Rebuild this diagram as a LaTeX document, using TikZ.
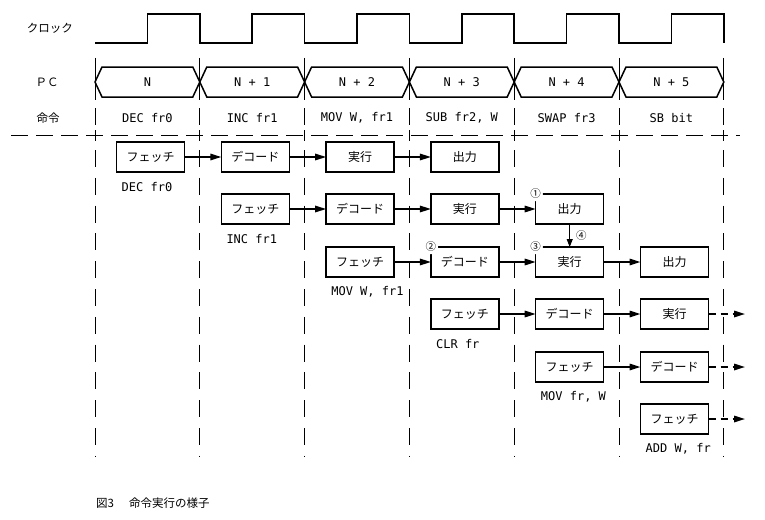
\documentclass[tikz,border=0pt]{standalone}
\usepackage{fontspec}
\newfontfamily\jp{Noto Sans CJK JP}
\newfontfamily\mono{DejaVu Sans Mono}
\usetikzlibrary{positioning,arrows.meta}
\begin{document}
\begin{tikzpicture}
[x=1pt,y=-1pt,
  stagebox/.style={shape=rectangle,draw,line width=1.5pt,minimum width=68pt,
    minimum height=30pt,inner sep=0pt,outer sep=0pt,font=\jp\fontsize{12}{12}\selectfont},
  arrowdecorate/.style={-{Triangle[length=11pt,width=6.5pt]},line width=1.6pt},
  dasharrow/.style={arrowdecorate,dash pattern=on 7pt off 5pt},
  thinarrow/.style={-{Triangle[length=8pt,width=6pt]},line width=1pt},
  gridline/.style={line width=0.8pt,dash pattern=on 17pt off 8pt},
  labeltext/.style={font=\mono\fontsize{12}{12}\selectfont,inner sep=0pt},
  jptext/.style={font=\jp\fontsize{11.5}{12}\selectfont,inner sep=0pt},
  circnum/.style={shape=circle,fill=white,inner sep=0pt,font=\jp\fontsize{10.5}{10.5}\selectfont},
  node distance=36.8pt]
\useasboundingbox (0,0) rectangle (765,519);
%% row titles
\node[jptext] (clk) at (50,28) {クロック};
\node[jptext] (pc) at (47,82) {ＰＣ};
\node[jptext] (op) at (48,118) {命令};
%% clock
\draw[line width=1.5pt] (95,43) \foreach \k in {0,...,5} {
  -- ++(52.4,0) -- ++(0,-29) -- ++(52.4,0) -- ++(0,29)};
%% grid
\foreach \k in {0,...,6} {
  \draw[line width=0.8pt] ({95+104.8*\k},58) -- ({95+104.8*\k},100);
  \draw[line width=0.8pt] ({95+104.8*\k},108) -- ({95+104.8*\k},125);
  \draw[line width=0.8pt] ({95+104.8*\k},130) -- ({95+104.8*\k},141);
  \draw[gridline,dash pattern=on 17pt off 10.8pt] ({95+104.8*\k},150) -- ({95+104.8*\k},457);
}
\draw[gridline] (11,135) -- (740,135);
%% program counter and instructions
\foreach \k/\pcname/\inst in {0/N/{DEC fr0}, 1/{N + 1}/{INC fr1},
  2/{N + 2}/{MOV W, fr1}, 3/{N + 3}/{SUB fr2, W}, 4/{N + 4}/{SWAP fr3},
  5/{N + 5}/{SB bit}} {
  \pgfmathsetmacro\xl{95+104.8*\k}
  \pgfmathsetmacro\xr{\xl+104.8}
  \draw[line width=1.5pt] (\xl,82) -- (\xl+7,67) -- (\xr-7,67) -- (\xr,82)
    -- (\xr-7,97) -- (\xl+7,97) -- cycle;
  \node[labeltext] (pc\k) at ({\xl+52.4},82) {\pcname};
  \node[labeltext] (ins\k) at ({\xl+52.4},118) {\inst};
}
%% pipeline stages
\foreach \r/\k/\y/\inst in {1/0/157/{DEC fr0}, 2/1/209/{INC fr1},
  3/2/262/{MOV W, fr1}, 4/3/314/{CLR fr}, 5/4/367/{MOV fr, W}, 6/5/419/{ADD W, fr}} {
  \node[stagebox] (f\r) at ({150.5+104.8*\k},\y) {フェッチ};
  \node[labeltext,anchor=west] (a\r) at ([shift={(5,15)}]f\r.south west) {\inst};
}
\foreach \r in {1,...,5} \node[stagebox,right=of f\r] (d\r) {デコード};
\foreach \r in {1,...,4} \node[stagebox,right=of d\r] (e\r) {実行};
\foreach \r in {1,...,3} \node[stagebox,right=of e\r] (o\r) {出力};
%% arrows
\path
\foreach \startnode/\endnode in {f1/d1, d1/e1, e1/o1, f2/d2, d2/e2, e2/o2,
  f3/d3, d3/e3, e3/o3, f4/d4, d4/e4, f5/d5} {
  (\startnode) edge[arrowdecorate] (\endnode)
};
\foreach \startnode in {e4, d5, f6} {
  \coordinate[right=36.5pt of \startnode] (end\startnode);
  \draw[dasharrow] (\startnode) -- (end\startnode);
}
%% hazard marks
\node[circnum] (c1) at (o2.north west) {①};
\node[circnum] (c2) at (d3.north west) {②};
\node[circnum] (c3) at (e3.north west) {③};
\draw[thinarrow] (o2) -- (e3) node[midway,right=4pt,circnum] (c4) {④};
%% caption
\node[jptext,anchor=west] (cap) at (96,503) {図3\hspace{15pt}命令実行の様子};
\end{tikzpicture}
\end{document}
